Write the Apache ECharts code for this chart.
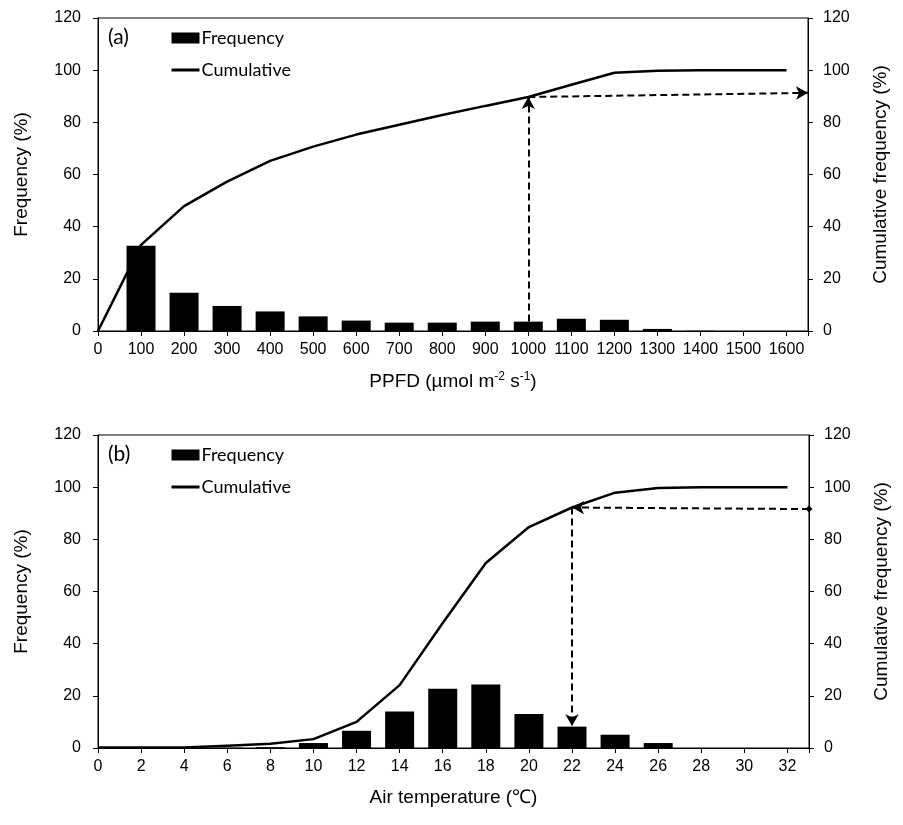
<!DOCTYPE html>
<html>
<head>
<meta charset="utf-8">
<script src="https://cdn.jsdelivr.net/npm/echarts@6/dist/echarts.min.js"></script>
<style>
  html, body { margin: 0; padding: 0; background: #fff; }
  #main { width: 903px; height: 825px; }
</style>
</head>
<body>
<div id="main"></div>
<script>
// (a) PPFD
var ppfdBins = [0, 100, 200, 300, 400, 500, 600, 700, 800, 900, 1000, 1100, 1200, 1300, 1400, 1500, 1600];
var ppfdFreq = [0, 32.7, 14.7, 9.6, 7.5, 5.6, 4.0, 3.2, 3.2, 3.6, 3.6, 4.7, 4.3, 0.8, 0.1, 0, 0];
var ppfdCum = [0, 33.0, 47.9, 57.3, 65.2, 70.7, 75.3, 79.1, 82.8, 86.3, 89.7, 94.4, 99.0, 99.8, 100, 100, 100];
// (b) air temperature
var tempBins = [0, 2, 4, 6, 8, 10, 12, 14, 16, 18, 20, 22, 24, 26, 28, 30, 32];
var tempFreq = [0, 0, 0, 0.1, 0.3, 1.9, 6.6, 14.0, 22.7, 24.3, 13.0, 8.2, 5.1, 1.9, 0, 0, 0];
var tempCum = [0.2, 0.2, 0.2, 0.9, 1.6, 3.4, 10.0, 24.1, 47.9, 70.9, 84.7, 92.2, 97.9, 99.7, 100, 100, 100];
// guide arrows: [x, yStart, yEnd, yAtRightAxis]
var ppfdGuide = [1000, 3.6, 89.7, 91.3];
var tempGuide = [22, 92.2, 8.3, 91.6];

function pairs(xs, ys) {
    return xs.map(function (x, i) { return [x, ys[i]]; });
}

var black = '#000';
var labelFont = { color: black, fontFamily: 'Liberation Sans', fontSize: 16 };
var nameFont = { color: black, fontFamily: 'Liberation Sans', fontSize: 19 };
var legendFont = { color: black, fontFamily: 'Lato', fontSize: 18, padding: [0, 0, 0, -3] };

function yAxisFor(gi, side) {
    return {
        type: 'value', gridIndex: gi, position: side,
        min: 0, max: 120, interval: 20,
        name: side === 'left' ? 'Frequency (%)' : 'Cumulative frequency (%)',
        nameLocation: 'middle', nameRotate: 90,
        nameGap: side === 'left' ? 67 : 63,
        nameTextStyle: nameFont,
        axisLine: { show: true, lineStyle: { color: black, width: 1 } },
        axisTick: { show: true, length: 5, lineStyle: { color: black } },
        axisLabel: Object.assign({ margin: side === 'left' ? 17 : 15 }, labelFont),
        splitLine: { show: false }
    };
}

function legendFor(top) {
    return {
        orient: 'vertical', left: 170, top: top, padding: 0,
        itemWidth: 28, itemHeight: 11, itemGap: 14,
        textStyle: legendFont, selectedMode: false,
        data: [
            { name: 'Frequency', icon: 'rect' },
            { name: 'Cumulative', itemStyle: { color: 'rgba(0,0,0,0)', borderWidth: 0 }, lineStyle: { width: 3, color: black } }
        ]
    };
}

var guideLine = { color: black, width: 2, type: [7, 4] };

var myChart = echarts.init(document.getElementById('main'));

option = {
    animation: false,
    title: [
        { text: '(a)', left: 108, top: 27, padding: 0, textStyle: { color: black, fontFamily: 'Lato', fontSize: 21, fontWeight: 'normal' } },
        { text: '(b)', left: 108, top: 444, padding: 0, textStyle: { color: black, fontFamily: 'Lato', fontSize: 21, fontWeight: 'normal' } }
    ],
    legend: [legendFor(29), legendFor(446)],
    grid: [
        { left: 98, top: 18, width: 710, height: 313, show: true, borderColor: black, borderWidth: 1 },
        { left: 98, top: 435, width: 711, height: 313, show: true, borderColor: black, borderWidth: 1 }
    ],
    xAxis: [
        {
            type: 'value', gridIndex: 0, min: 0, max: 1650, interval: 100,
            name: '{t|PPFD (µmol m}{s|-2}{t| s}{s|-1}{t|)}', nameLocation: 'middle', nameGap: 40,
            nameTextStyle: {
                rich: {
                    t: { color: black, fontFamily: 'Liberation Sans', fontSize: 19 },
                    s: { color: black, fontFamily: 'Liberation Sans', fontSize: 12, padding: [0, 0, 10, 0] }
                }
            },
            axisLine: { onZero: false, lineStyle: { color: black } },
            axisTick: { length: 5, lineStyle: { color: black } },
            axisLabel: Object.assign({
                margin: 11,
                formatter: function (v) { return v % 100 === 0 ? String(v) : ''; }
            }, labelFont),
            splitLine: { show: false }
        },
        {
            type: 'value', gridIndex: 1, min: 0, max: 33, interval: 2,
            name: 'Air temperature (℃)', nameLocation: 'middle', nameGap: 40,
            nameTextStyle: nameFont,
            axisLine: { onZero: false, lineStyle: { color: black } },
            axisTick: { length: 5, lineStyle: { color: black } },
            axisLabel: Object.assign({
                margin: 11,
                formatter: function (v) { return v % 2 === 0 ? String(v) : ''; }
            }, labelFont),
            splitLine: { show: false }
        }
    ],
    yAxis: [yAxisFor(0, 'left'), yAxisFor(0, 'right'), yAxisFor(1, 'left'), yAxisFor(1, 'right')],
    series: [
        {
            name: 'Frequency', type: 'bar', xAxisIndex: 0, yAxisIndex: 0, barWidth: 29,
            itemStyle: { color: black }, data: pairs(ppfdBins, ppfdFreq), silent: true
        },
        {
            name: 'Cumulative', type: 'line', xAxisIndex: 0, yAxisIndex: 0, symbol: 'none',
            lineStyle: { color: black, width: 2.5 }, itemStyle: { color: black },
            data: pairs(ppfdBins, ppfdCum), silent: true,
            markLine: {
                silent: true, animation: false, label: { show: false }, lineStyle: guideLine,
                symbolSize: [10, 12],
                data: [
                    [{ coord: [ppfdGuide[0], ppfdGuide[1]], symbol: 'none' },
                     { coord: [ppfdGuide[0], ppfdGuide[2]], symbol: 'arrow' }],
                    [{ coord: [ppfdGuide[0], ppfdGuide[2]], symbol: 'none' },
                     { coord: [1650, ppfdGuide[3]], symbol: 'arrow' }]
                ]
            }
        },
        {
            name: 'Frequency', type: 'bar', xAxisIndex: 1, yAxisIndex: 2, barWidth: 29,
            itemStyle: { color: black }, data: pairs(tempBins, tempFreq), silent: true
        },
        {
            name: 'Cumulative', type: 'line', xAxisIndex: 1, yAxisIndex: 2, symbol: 'none',
            lineStyle: { color: black, width: 2.5 }, itemStyle: { color: black },
            data: pairs(tempBins, tempCum), silent: true,
            markLine: {
                silent: true, animation: false, label: { show: false }, lineStyle: guideLine,
                symbolSize: [10, 12],
                data: [
                    [{ coord: [tempGuide[0], tempGuide[1]], symbol: 'none' },
                     { coord: [tempGuide[0], tempGuide[2]], symbol: 'arrow' }],
                    [{ coord: [33, tempGuide[3]], symbol: 'diamond', symbolSize: 7 },
                     { coord: [tempGuide[0], tempGuide[1]], symbol: 'arrow' }]
                ]
            }
        }
    ]
};
myChart.setOption(option);
</script>
</body>
</html>
